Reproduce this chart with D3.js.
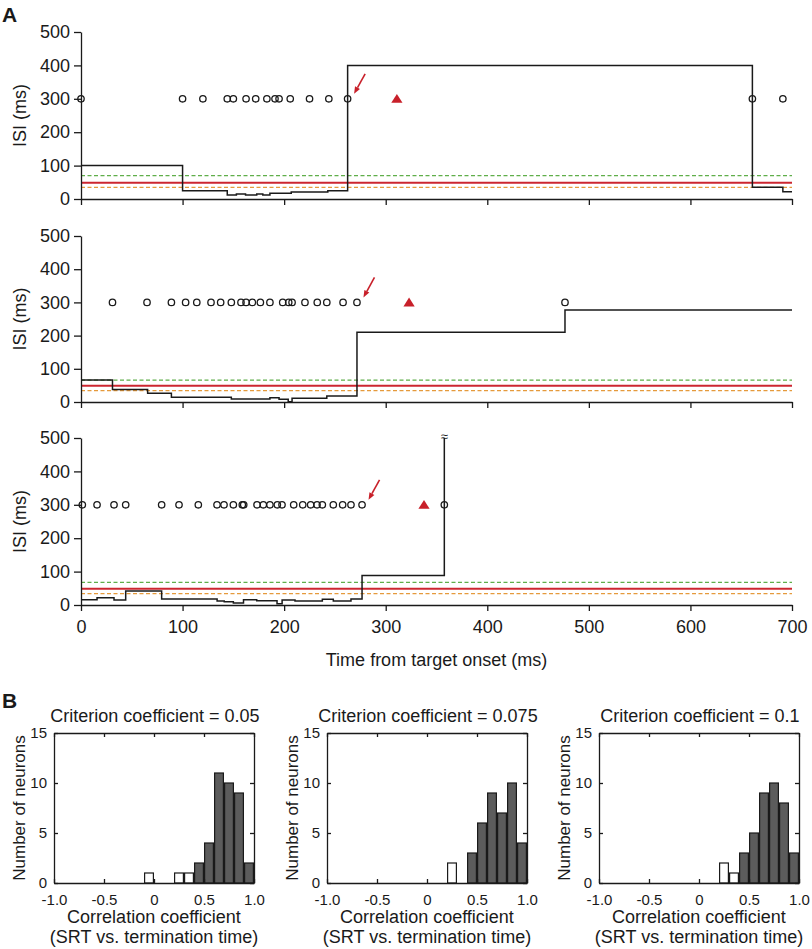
<!DOCTYPE html>
<html><head><meta charset="utf-8">
<script src="https://cdn.jsdelivr.net/npm/d3@7"></script>
<style>body{margin:0;background:#fff} text{font-family:"Liberation Sans",Arial,sans-serif;fill:#1a1a1a}</style>
</head><body><svg id="c" width="812" height="949"></svg>
<script>
// ---------- Panel A data ----------
const xTicksA = [0,100,200,300,400,500,600,700];
const yTicksA = [0,100,200,300,400,500];
const spikeLevel = 300;

const topSpikes = [0,100,120,144,150,162.5,172,183,191,195,206,225,244,262.5,661,691];
const topTriangle = 311;
const topStepT = [0,100,144,153,162,173,179,186,207,243,262.5,661,691,700];
const topStepV = [100,25,12,15,12,15,12,17,21,25,400,35,22,22];
const topThresh = [70,49,35];   // green, red, orange

const midSpikes = [31,65,89,103,114,128,137.5,148,157.5,162.5,168.7,176.6,186,198.6,204.5,207.8,220.5,232.6,242,258,271.7,476.5];
const midTriangle = 323;
const midStepT = [0,31,65.6,89,148,186,195,204,207.8,242,271.7,476.5,700];
const midStepV = [66,38,26,14,9,13,8,1,11,18,210,277,277];
const midThresh = [66,49,34];

const botSpikes = [1.3,15.8,32.5,44,79.4,96.5,115.5,133.9,140.8,150,158.8,160.2,173.3,179.5,186,193.3,197.9,209.4,218.3,226.1,232.4,237.6,248.4,257.6,265.8,276.7,357.7];
const botTriangle = 337.7;
const botStepT = [0,15.8,32.5,44,79.4,134,141,150,160,173,193,198,210.7,237.6,248.4,265.8,276.7,357.7];
const botStepV = [16,22,15,42,18,12,10,6,16,13,4,15,12,17,12,18,88,500];
const botThresh = [68,49,34];

// ---------- Panel B data ----------
const binEdges = d3.range(20).map(i => -1 + i*0.1);
const xTicksB = [-1,-0.5,0,0.5,1];
const yTicksB = [0,5,10,15];
const criteria = ["0.05","0.075","0.1"];
// counts per bin (index 0 = [-1.0,-0.9) ... index 19 = [0.9,1.0])
const h1Sig    = [0,0,0,0,0,0,0,0,0,0, 0,0,0,0,2,4,11,10,9,2];
const h1NonSig = [0,0,0,0,0,0,0,0,0,1, 0,0,1,1,0,0,0,0,0,0];
const h2Sig    = [0,0,0,0,0,0,0,0,0,0, 0,0,0,0,3,6,9,7,10,4];
const h2NonSig = [0,0,0,0,0,0,0,0,0,0, 0,0,2,0,0,0,0,0,0,0];
const h3Sig    = [0,0,0,0,0,0,0,0,0,0, 0,0,0,0,3,5,9,10,8,3];
const h3NonSig = [0,0,0,0,0,0,0,0,0,0, 0,0,2,1,0,0,0,0,0,0];

const svg = d3.select("#c");
const INK = "#1a1a1a";
const FONT = '"Liberation Sans",Arial,sans-serif';

function styleAxis(g, size){
  g.attr("font-family", FONT).attr("font-size", size);
  g.selectAll("path.domain").attr("stroke", INK).attr("stroke-width", 1.3);
  g.selectAll(".tick line").attr("stroke", INK).attr("stroke-width", 1.3);
  g.selectAll(".tick text").attr("fill", INK);
}

// ---------- Panel A ----------
const xA = d3.scaleLinear().domain([0,700]).range([81,792]);
const rows = [
  {spikes: topSpikes, tri: topTriangle, T: topStepT, V: topStepV, th: topThresh, y0:199, y1:32, labels:false, brk:false},
  {spikes: midSpikes, tri: midTriangle, T: midStepT, V: midStepV, th: midThresh, y0:402, y1:236, labels:false, brk:false},
  {spikes: botSpikes, tri: botTriangle, T: botStepT, V: botStepV, th: botThresh, y0:605, y1:438, labels:true, brk:true}
];
const arrowIdx = [13, 20, 25]; // spike preceding the triangle

rows.forEach((r, ri) => {
  const y = d3.scaleLinear().domain([0,500]).range([r.y0, r.y1]);
  const g = svg.append("g");
  const colors = ["#5fae4a","#cc2630","#e59a3c"];
  r.th.forEach((v,i) => {
    g.append("line").attr("x1", xA(0)).attr("x2", xA(700)).attr("y1", y(v)).attr("y2", y(v))
      .attr("stroke", colors[i]).attr("stroke-width", i===1 ? 2 : 1.3)
      .attr("stroke-dasharray", i===1 ? null : "4,2.5");
  });
  const pts = r.T.map((t,i) => [t, r.V[i]]);
  g.append("path").attr("d", d3.line().x(d=>xA(d[0])).y(d=>y(d[1])).curve(d3.curveStepAfter)(pts))
    .attr("fill","none").attr("stroke", INK).attr("stroke-width", 1.5);
  if (r.brk) {
    const last = r.T[r.T.length-1];
    g.append("text").attr("x", xA(last)).attr("y", y(500)+2.5).attr("text-anchor","middle")
      .attr("font-size", 13).text("≈");
  }
  g.selectAll("circle").data(r.spikes).join("circle")
    .attr("cx", d=>xA(d)).attr("cy", y(spikeLevel)).attr("r", 3.2)
    .attr("fill","none").attr("stroke", INK).attr("stroke-width", 1.3);
  const tx = xA(r.tri), ty = y(spikeLevel);
  g.append("path").attr("d", `M${tx},${ty-4.8}L${tx+5.6},${ty+4}L${tx-5.6},${ty+4}Z`).attr("fill","#c8202a");
  // arrow
  const sx = xA(r.spikes[arrowIdx[ri]]), sy = y(spikeLevel);
  const tipX = sx+6.5, tipY = sy-5, tailX = tipX+11, tailY = tipY-20;
  const ang = Math.atan2(tipY-tailY, tipX-tailX);
  const hl = 7, hw = 2.8;
  const bx = tipX - hl*Math.cos(ang), by = tipY - hl*Math.sin(ang);
  g.append("line").attr("x1", tailX).attr("y1", tailY).attr("x2", bx).attr("y2", by)
    .attr("stroke","#c8202a").attr("stroke-width",1.6);
  g.append("path").attr("d", `M${tipX},${tipY}L${bx - hw*Math.sin(ang)},${by + hw*Math.cos(ang)}L${bx + hw*Math.sin(ang)},${by - hw*Math.cos(ang)}Z`)
    .attr("fill","#c8202a");
  // axes
  const ax = g.append("g").attr("transform", `translate(${xA(0)},0)`)
    .call(d3.axisLeft(y).tickValues(yTicksA).tickSize(7).tickSizeOuter(0).tickPadding(4));
  styleAxis(ax, 18);
  const bx2 = g.append("g").attr("transform", `translate(0,${r.y0})`)
    .call(d3.axisBottom(xA).tickValues(xTicksA).tickSize(6).tickSizeOuter(0).tickPadding(9)
      .tickFormat(r.labels ? d3.format("d") : ""));
  styleAxis(bx2, 18);
  g.append("text").attr("transform", `translate(26,${(r.y0+r.y1)/2}) rotate(-90)`)
    .attr("text-anchor","middle").attr("font-size",18).text("ISI (ms)");
});
svg.append("text").attr("x", (xA(0)+xA(700))/2).attr("y", 666).attr("text-anchor","middle")
  .attr("font-size", 18).text("Time from target onset (ms)");

// ---------- Panel B ----------
const hists = [
  {sig: h1Sig, non: h1NonSig, left: 54},
  {sig: h2Sig, non: h2NonSig, left: 327},
  {sig: h3Sig, non: h3NonSig, left: 599}
];
const yB = d3.scaleLinear().domain([0,15]).range([883,733]);
hists.forEach((h, hi) => {
  const xB = d3.scaleLinear().domain([-1,1]).range([h.left, h.left+200]);
  const g = svg.append("g");
  const bars = [];
  binEdges.forEach((e,i) => {
    if (h.sig[i] > 0) bars.push({e, c: h.sig[i], fill: "#5c5c5c"});
    if (h.non[i] > 0) bars.push({e, c: h.non[i], fill: "#ffffff"});
  });
  g.selectAll("rect.bar").data(bars).join("rect").attr("class","bar")
    .attr("x", d => xB(d.e)+0.6).attr("width", d => xB(d.e+0.1)-xB(d.e)-1.2)
    .attr("y", d => yB(d.c)).attr("height", d => yB(0)-yB(d.c))
    .attr("fill", d => d.fill).attr("stroke", INK).attr("stroke-width", 1.2);
  const fmt = d => d === 0 ? "0" : d.toFixed(1);
  const axB = g.append("g").attr("transform", `translate(0,${yB(0)})`)
    .call(d3.axisBottom(xB).tickValues(xTicksB).tickFormat(fmt).tickSize(-4).tickSizeOuter(0).tickPadding(11));
  styleAxis(axB, 15);
  const axT = g.append("g").attr("transform", `translate(0,${yB(15)})`)
    .call(d3.axisTop(xB).tickValues(xTicksB).tickFormat("").tickSize(-4).tickSizeOuter(0));
  styleAxis(axT, 15);
  const axL = g.append("g").attr("transform", `translate(${xB(-1)},0)`)
    .call(d3.axisLeft(yB).tickValues(yTicksB).tickSize(-4).tickSizeOuter(0).tickPadding(7));
  styleAxis(axL, 15);
  const axR = g.append("g").attr("transform", `translate(${xB(1)},0)`)
    .call(d3.axisRight(yB).tickValues(yTicksB).tickFormat("").tickSize(-4).tickSizeOuter(0));
  styleAxis(axR, 15);
  const cx = (xB(-1)+xB(1))/2;
  g.append("text").attr("x", cx+1).attr("y", 722).attr("text-anchor","middle").attr("font-size",18)
    .text("Criterion coefficient = " + criteria[hi]);
  g.append("text").attr("x", cx).attr("y", 923).attr("text-anchor","middle").attr("font-size",18)
    .text("Correlation coefficient");
  g.append("text").attr("x", cx).attr("y", 943).attr("text-anchor","middle").attr("font-size",18)
    .text("(SRT vs. termination time)");
  g.append("text").attr("transform", `translate(${xB(-1)-29.5},${(yB(0)+yB(15))/2}) rotate(-90)`)
    .attr("text-anchor","middle").attr("font-size",17).text("Number of neurons");
});

svg.append("text").attr("x", 2).attr("y", 22).attr("font-size", 21).attr("font-weight","bold").text("A");
svg.append("text").attr("x", 2).attr("y", 708).attr("font-size", 21).attr("font-weight","bold").text("B");
</script></body></html>
